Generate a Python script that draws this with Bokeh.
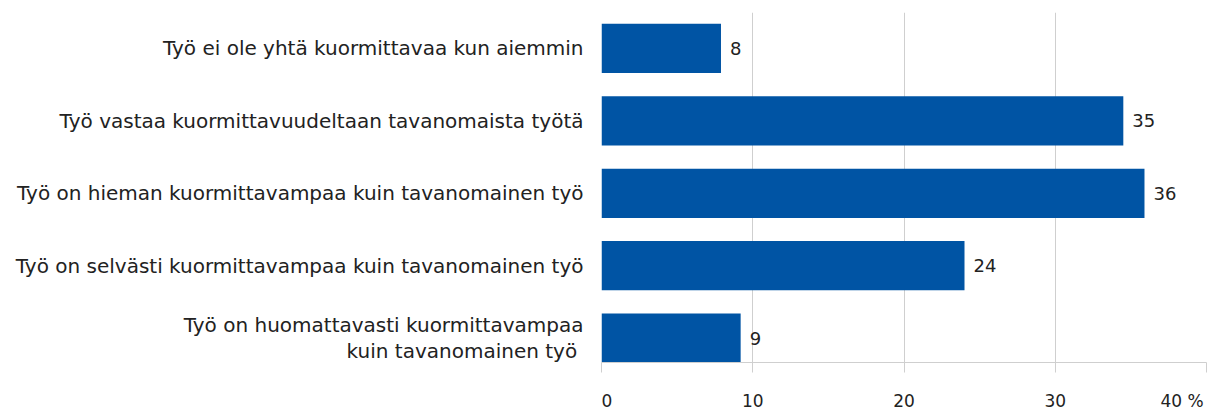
from bokeh.plotting import figure
from bokeh.models import ColumnDataSource, Range1d, FixedTicker
from bokeh.embed import file_html
from bokeh.resources import INLINE
from bokeh.core.properties import value

categories = [
    "Työ ei ole yhtä kuormittavaa kun aiemmin",
    "Työ vastaa kuormittavuudeltaan tavanomaista työtä",
    "Työ on hieman kuormittavampaa kuin tavanomainen työ",
    "Työ on selvästi kuormittavampaa kuin tavanomainen työ",
    "Työ on huomattavasti kuormittavampaa\nkuin tavanomainen  työ",
]
values = [7.9, 34.5, 35.9, 24.0, 9.2]
value_labels = ["8", "35", "36", "24", "9"]
x_ticks = [0, 10, 20, 30, 40]
x_tick_labels = ["0", "10", "20", "30", "40 %"]

FONT = "DejaVu Sans"
TEXT_COLOR = "#222222"
BAR_COLOR = "#0054A4"
GRID_COLOR = "#cfcfcf"
NB = "\u00a0"

n = len(categories)
ypos = [n - 1 - i for i in range(n)]
Y_LO, Y_HI = -0.337, n - 1 + 0.497

src = ColumnDataSource(dict(y=ypos, v=values, lab=value_labels))

p = figure(width=1214, height=413, output_backend="svg", toolbar_location=None,
           x_range=Range1d(0, 40), y_range=Range1d(Y_LO, Y_HI),
           min_border_left=601, min_border_right=8, min_border_top=12, min_border_bottom=51)
p.outline_line_color = None
p.background_fill_color = "white"

p.hbar(y="y", left=0, right="v", height=0.68, source=src, fill_color=BAR_COLOR, line_color=None)
p.text(x="v", y="y", text="lab", source=src, x_offset=9, text_baseline="middle",
       text_align="left", text_font=value(FONT), text_font_size="18px", text_color=TEXT_COLOR)

# x axis; edge labels padded so that 0 sits right of its tick and "40 %" left of it
overrides = {t: l for t, l in zip(x_ticks, x_tick_labels)}
overrides[x_ticks[0]] = NB * 2 + x_tick_labels[0]
overrides[x_ticks[-1]] = x_tick_labels[-1] + NB * 2
p.xaxis.ticker = FixedTicker(ticks=x_ticks)
p.xaxis.major_label_overrides = overrides
p.xaxis.axis_line_color = GRID_COLOR
p.xaxis.major_tick_line_color = GRID_COLOR
p.xaxis.major_tick_out = 10
p.xaxis.major_tick_in = 0
p.xaxis.minor_tick_line_color = None
p.xaxis.major_label_standoff = 18
p.xaxis.major_label_text_font = FONT
p.xaxis.major_label_text_font_size = "17px"
p.xaxis.major_label_text_color = TEXT_COLOR

# y axis
p.yaxis.ticker = FixedTicker(ticks=ypos)
p.yaxis.major_label_overrides = {y: c for y, c in zip(ypos, categories)}
p.yaxis.axis_line_color = None
p.yaxis.major_tick_line_color = None
p.yaxis.minor_tick_line_color = None
p.yaxis.major_label_standoff = 12
p.yaxis.major_label_text_font = FONT
p.yaxis.major_label_text_font_size = "20px"
p.yaxis.major_label_text_line_height = 1.05
p.yaxis.major_label_text_color = TEXT_COLOR
p.yaxis.major_label_text_align = "right"

p.xgrid.grid_line_color = GRID_COLOR
p.xgrid.grid_line_width = 1
p.ygrid.grid_line_color = None

open("out.html", "w").write(file_html(p, INLINE))
